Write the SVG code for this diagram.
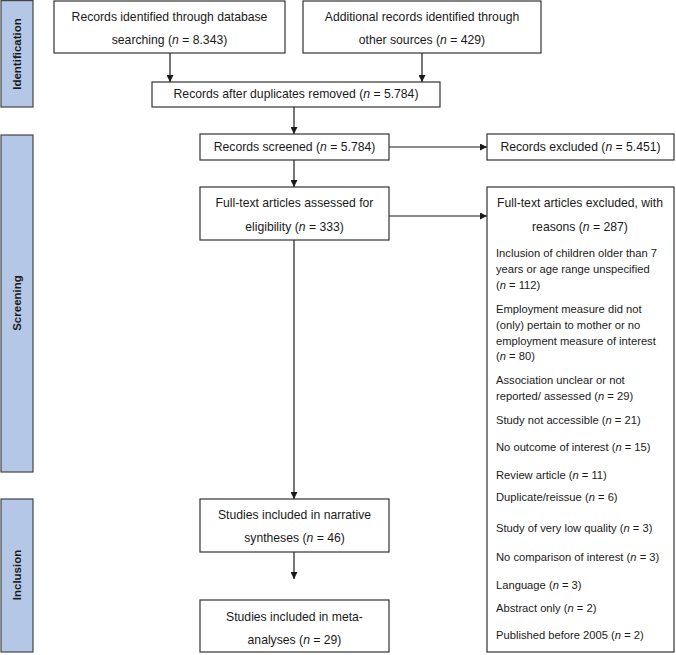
<svg xmlns="http://www.w3.org/2000/svg" width="676" height="655" viewBox="0 0 676 655">
<defs>
<marker id="ah" viewBox="0 0 10 10" refX="10" refY="5" markerWidth="7" markerHeight="7" markerUnits="userSpaceOnUse" orient="auto">
<path d="M0,0 L10,5 L0,10 z" fill="#1a1a1a"/>
</marker>
<style>
.box{fill:#fff;stroke:#333;stroke-width:1.2}
.bar{fill:#b4c7e7;stroke:#444;stroke-width:1.2}
.t{font-family:"Liberation Sans",Arial,sans-serif;font-size:12.2px;fill:#1a1a1a;text-anchor:middle}
.r{font-family:"Liberation Sans",Arial,sans-serif;font-size:11.2px;fill:#1a1a1a}
.ph{font-family:"Liberation Sans",Arial,sans-serif;font-size:11.5px;font-weight:bold;fill:#1a1a1a;text-anchor:middle}
.c{fill:none;stroke:#1a1a1a;stroke-width:1.2}
.i{font-style:italic}
</style>
</defs>
<rect width="676" height="655" fill="#fff"/>

<g id="phase-identification">
<rect class="bar" x="1" y="0.6" width="32" height="106.4"/>
<text class="ph" transform="translate(21,54) rotate(-90)">Identification</text>
</g>
<g id="phase-screening">
<rect class="bar" x="1" y="135" width="32" height="337"/>
<text class="ph" transform="translate(21,303) rotate(-90)">Screening</text>
</g>
<g id="phase-inclusion">
<rect class="bar" x="1" y="499" width="32" height="153"/>
<text class="ph" transform="translate(21,575) rotate(-90)">Inclusion</text>
</g>

<g id="connectors">
<line class="c" x1="170" y1="53" x2="170" y2="82" marker-end="url(#ah)"/>
<line class="c" x1="422" y1="53" x2="422" y2="82" marker-end="url(#ah)"/>
<line class="c" x1="294" y1="107" x2="294" y2="134" marker-end="url(#ah)"/>
<line class="c" x1="389" y1="147" x2="487" y2="147" marker-end="url(#ah)"/>
<line class="c" x1="294" y1="160" x2="294" y2="187" marker-end="url(#ah)"/>
<line class="c" x1="389" y1="216" x2="487" y2="216" marker-end="url(#ah)"/>
<line class="c" x1="294" y1="240" x2="294" y2="499" marker-end="url(#ah)"/>
<line class="c" x1="294" y1="552" x2="294" y2="579" marker-end="url(#ah)"/>
</g>

<g id="n-db">
<rect class="box" x="54" y="1" width="231" height="52"/>
<text class="t" x="169.5" y="21">Records identified through database</text>
<text class="t" x="169.5" y="44">searching (<tspan class="i">n</tspan> = 8.343)</text>
</g>
<g id="n-other">
<rect class="box" x="303" y="1" width="238" height="52"/>
<text class="t" x="422" y="21">Additional records identified through</text>
<text class="t" x="422" y="44">other sources (<tspan class="i">n</tspan> = 429)</text>
</g>
<g id="n-dedup">
<rect class="box" x="152" y="82" width="288" height="25"/>
<text class="t" x="296" y="98">Records after duplicates removed  (<tspan class="i">n</tspan> = 5.784)</text>
</g>
<g id="n-screened">
<rect class="box" x="200" y="134" width="189" height="26"/>
<text class="t" x="294.5" y="151">Records screened (<tspan class="i">n</tspan> = 5.784)</text>
</g>
<g id="n-excluded">
<rect class="box" x="487" y="134" width="187" height="26"/>
<text class="t" x="580.5" y="151">Records excluded (<tspan class="i">n</tspan> = 5.451)</text>
</g>
<g id="n-fulltext">
<rect class="box" x="200" y="187" width="189" height="53"/>
<text class="t" x="294.5" y="207">Full-text articles assessed for</text>
<text class="t" x="294.5" y="231">eligibility (<tspan class="i">n</tspan> = 333)</text>
</g>
<g id="n-reasons">
<rect class="box" x="487" y="187" width="187" height="465"/>
<text class="t" x="580" y="207">Full-text articles excluded, with</text>
<text class="t" x="580" y="231">reasons (<tspan class="i">n</tspan> = 287)</text>
<text class="r" x="496" y="257">Inclusion of children older than 7</text>
<text class="r" x="496" y="273">years or age range unspecified</text>
<text class="r" x="496" y="289">(<tspan class="i">n</tspan> = 112)</text>
<text class="r" x="496" y="313">Employment measure did not</text>
<text class="r" x="496" y="329">(only) pertain to mother or no</text>
<text class="r" x="496" y="345">employment measure of interest</text>
<text class="r" x="496" y="360">(<tspan class="i">n</tspan> = 80)</text>
<text class="r" x="496" y="384">Association unclear or not</text>
<text class="r" x="496" y="400">reported/ assessed (<tspan class="i">n</tspan> = 29)</text>
<text class="r" x="496" y="424">Study not accessible (<tspan class="i">n</tspan> = 21)</text>
<text class="r" x="496" y="451">No outcome of interest (<tspan class="i">n</tspan> = 15)</text>
<text class="r" x="496" y="479">Review article (<tspan class="i">n</tspan> = 11)</text>
<text class="r" x="496" y="501">Duplicate/reissue (<tspan class="i">n</tspan> = 6)</text>
<text class="r" x="496" y="532">Study of very low quality (<tspan class="i">n</tspan> = 3)</text>
<text class="r" x="496" y="561">No comparison of interest (<tspan class="i">n</tspan> = 3)</text>
<text class="r" x="496" y="589">Language (<tspan class="i">n</tspan> = 3)</text>
<text class="r" x="496" y="612">Abstract only (<tspan class="i">n</tspan> = 2)</text>
<text class="r" x="496" y="639">Published before 2005 (<tspan class="i">n</tspan> = 2)</text>
</g>
<g id="n-narrative">
<rect class="box" x="200" y="499" width="189" height="53"/>
<text class="t" x="294.5" y="519">Studies included in narrative</text>
<text class="t" x="294.5" y="542">syntheses (<tspan class="i">n</tspan> = 46)</text>
</g>
<g id="n-meta">
<rect class="box" x="200" y="600" width="189" height="52"/>
<text class="t" x="294.5" y="621">Studies included in meta-</text>
<text class="t" x="294.5" y="644">analyses (<tspan class="i">n</tspan> = 29)</text>
</g>
</svg>
